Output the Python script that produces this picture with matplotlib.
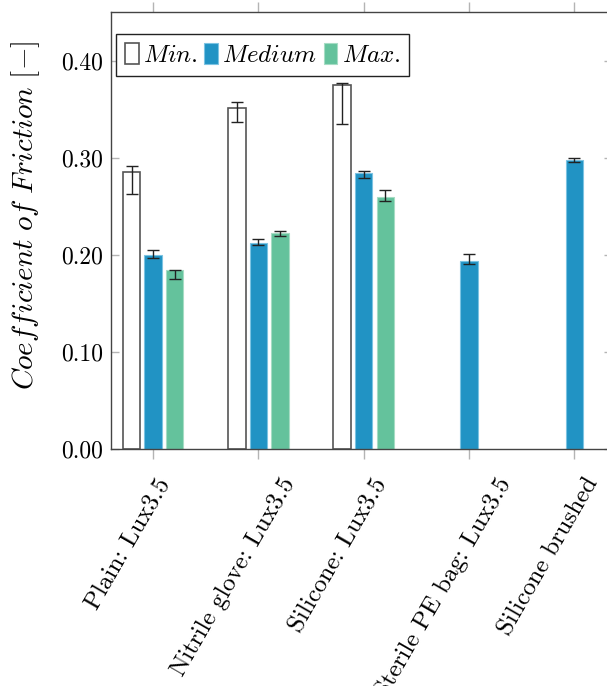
import matplotlib
matplotlib.use("Agg")
import matplotlib.pyplot as plt
import matplotlib.transforms as mtransforms
import numpy as np

plt.rcParams['mathtext.fontset'] = 'cm'
plt.rcParams['axes.formatter.use_mathtext'] = True

# data
categories = ['Plain: Lux3.5', 'Nitrile glove: Lux3.5', 'Silicone: Lux3.5',
              'Sterile PE bag: Lux3.5', 'Silicone brushed']
min_vals = [0.285, 0.351, 0.375]
min_lo = [0.263, 0.337, 0.335]
min_hi = [0.291, 0.357, 0.377]
med_vals = [0.200, 0.212, 0.284, 0.194, 0.298]
med_lo = [0.197, 0.210, 0.279, 0.191, 0.296]
med_hi = [0.205, 0.216, 0.286, 0.201, 0.300]
max_vals = [0.184, 0.222, 0.259]
max_lo = [0.175, 0.219, 0.255]
max_hi = [0.1845, 0.224, 0.267]
yticks = [0.0, 0.1, 0.2, 0.3, 0.4]
ytick_labels = ['0.00', '0.10', '0.20', '0.30', '0.40']

c_med = '#2193c4'
c_max = '#64c29c'
tick_grey = '#b4b4b4'

fig = plt.figure(figsize=(6.07, 6.86), dpi=100)
ax = fig.add_axes([111 / 607, 237 / 686, 501 / 607, 437 / 686])

x = np.arange(len(categories))
w = 0.165
off = 0.205


def errs(v, lo, hi):
    v = np.asarray(v)
    return [v - np.asarray(lo), np.asarray(hi) - v]


err_kw = dict(ecolor='#222222', elinewidth=1.0, capsize=4.5, capthick=1.0)

ax.bar(x[:3] - off, min_vals, w, color='white', edgecolor='#555555', linewidth=1.2,
       yerr=errs(min_vals, min_lo, min_hi), error_kw=err_kw, label='$Min.$', zorder=2)
ax.bar(x, med_vals, w, color=c_med, edgecolor='#7cc3e2', linewidth=0.8,
       yerr=errs(med_vals, med_lo, med_hi), error_kw=err_kw, label='$Medium$', zorder=2)
ax.bar(x[:3] + off, max_vals, w, color=c_max, edgecolor='#a6dcc4', linewidth=0.8,
       yerr=errs(max_vals, max_lo, max_hi), error_kw=err_kw, label='$Max.$', zorder=2)

ax.set_xlim(-0.4, -0.4 + 501 / 105.3)
ax.set_ylim(0, 0.45)

ax.set_yticks(yticks)
ax.set_yticklabels(ytick_labels, fontfamily='cmr10', fontsize=17)
ax.set_xticks(x)
ax.set_xticklabels(categories, fontfamily='cmr10', fontsize=18, rotation=60,
                   ha='center', va='top')

ax.tick_params(axis='y', which='both', direction='in', length=6, width=1,
               color=tick_grey, left=True, right=True, pad=6)
ax.tick_params(axis='x', which='both', direction='out', length=7.2, width=1,
               color=tick_grey, top=True, bottom=True, pad=11)

for s in ['left', 'bottom', 'top', 'right']:
    ax.spines[s].set_color('#444444')
    ax.spines[s].set_linewidth(1.0)

ax.set_ylabel(r'$Coefficient\ of\ Friction\ [-]$', fontsize=21)
ax.yaxis.set_label_coords(-0.138, 0.535)

leg = ax.legend(loc='upper left', bbox_to_anchor=(0.01, 0.95), ncol=3, fontsize=18,
                frameon=True, fancybox=False, edgecolor='#222222', framealpha=1,
                handlelength=0.55, handleheight=0.95, handletextpad=0.18,
                columnspacing=0.25, borderpad=0.35, borderaxespad=0.0)
leg.get_frame().set_linewidth(1.0)

# shift rotated labels left, as in the original layout
shift = mtransforms.ScaledTranslation(-25 / 100, 0, fig.dpi_scale_trans)
for lbl in ax.get_xticklabels():
    lbl.set_transform(lbl.get_transform() + shift)

plt.savefig('out.png', dpi=100)
plt.close()
